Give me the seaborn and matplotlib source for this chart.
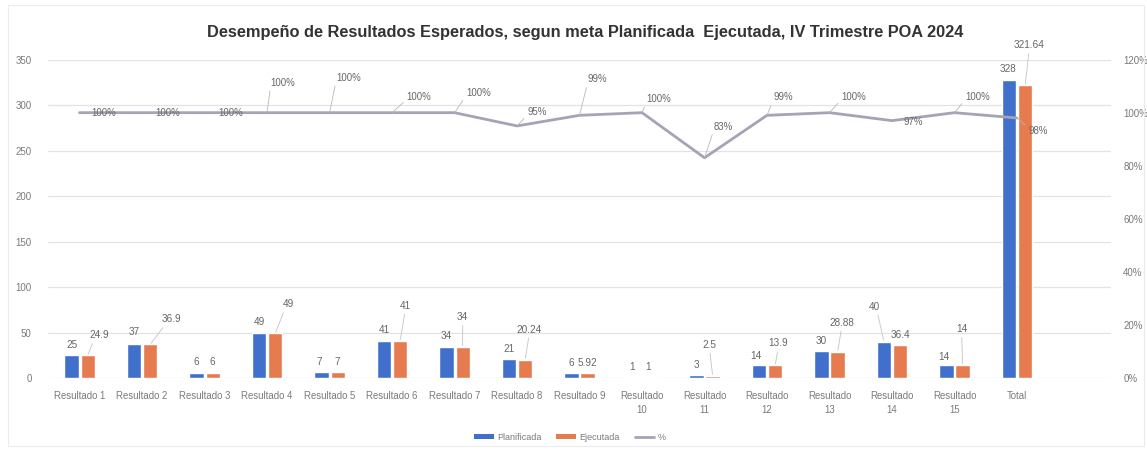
import numpy as np
import pandas as pd
import matplotlib
matplotlib.use("Agg")
import matplotlib.pyplot as plt
from matplotlib.ticker import PercentFormatter, MultipleLocator
from matplotlib.patches import Patch, Rectangle
from matplotlib.lines import Line2D
import seaborn as sns

# ---------------- data ----------------
categories = ["Resultado 1", "Resultado 2", "Resultado 3", "Resultado 4", "Resultado 5",
              "Resultado 6", "Resultado 7", "Resultado 8", "Resultado 9", "Resultado 10",
              "Resultado 11", "Resultado 12", "Resultado 13", "Resultado 14", "Resultado 15",
              "Total"]
planificada = [25, 37, 6, 49, 7, 41, 34, 21, 6, 1, 3, 14, 30, 40, 14, 328]
ejecutada = [24.9, 36.9, 6, 49, 7, 41, 34, 20.24, 5.92, 1, 2.5, 13.9, 28.88, 36.4, 14, 321.64]
pct = [100, 100, 100, 100, 100, 100, 100, 95, 99, 100, 83, 99, 100, 97, 100, 98]
series_names = ["Planificada", "Ejecutada"]
line_name = "%"
title = "Desempeño de Resultados Esperados, segun meta Planificada  Ejecutada, IV Trimestre POA 2024"

# ---------------- style ----------------
BLUE = "#4170cc"
ORANGE = "#e67b4f"
LINE = "#a4a4b6"
GRID = "#e3e3e3"
TXT = "#7a7a7a"
LBL = "#666666"

# label offsets in pixels (dx, dy up)
plan_off = [(1, 10), (0, 12), (0, 11), (0, 11), (-2, 10), (0, 11), (0, 11), (0, 10),
            (0, 10), (-2, 10), (0, 10), (-3, 9), (0, 10), (-10, 35), (-2, 8), (-1, 11)]
ejec_off = [(12, 20), (21, 25), (0, 11), (13, 29), (0, 10), (5, 35), (0, 30), (4, 30),
            (0, 10), (-2, 10), (-3, 31), (3, 22), (4, 29), (0, 10), (-1, 36), (4, 40)]
pct_off = [(24, 0), (26, 0), (26, 0), (16, 30), (19, 35), (27, 16), (24, 20), (20, 14),
           (18, 36), (17, 14), (19, 31), (16, 18), (24, 16), (21, -1), (23, 16), (21, -13)]

sns.set_theme(style="white")
plt.rcParams["font.family"] = ["Liberation Sans", "DejaVu Sans"]

fig, ax = plt.subplots(figsize=(11.47, 4.55), dpi=100)
fig.subplots_adjust(left=0.0421, right=0.9684, bottom=0.1692, top=0.869)

df = pd.DataFrame({
    "Resultado": categories * 2,
    "Serie": [series_names[0]] * len(categories) + [series_names[1]] * len(categories),
    "Valor": planificada + ejecutada,
})

sns.barplot(data=df, x="Resultado", y="Valor", hue="Serie", order=categories,
            hue_order=series_names, palette=[BLUE, ORANGE], saturation=1,
            width=0.52, gap=0.12, ax=ax, legend=False, zorder=2)

ax.set_ylim(0, 350)
ax.yaxis.set_major_locator(MultipleLocator(50))
ax.grid(axis="y", color=GRID, lw=0.9, zorder=0)
ax.grid(axis="x", visible=False)
ax.set_axisbelow(True)
for s in ax.spines.values():
    s.set_visible(False)
ax.set_xlabel("")
ax.set_ylabel("")
tick_labels = [c if len(c) <= 11 else c.replace(" ", "\n") for c in categories]
ax.set_xticks(range(len(categories)))
ax.set_xticklabels(tick_labels, fontsize=6.9, color=TXT, linespacing=1.5, va="top")
ax.tick_params(axis="x", length=0, pad=9)
ax.tick_params(axis="y", length=0, pad=12, labelsize=7, labelcolor=TXT)

# ---- bar labels
def bar_labels(container, values, offs):
    for bar, v, (dx, dy) in zip(container.patches, values, offs):
        x = bar.get_x() + bar.get_width() / 2
        y = bar.get_height()
        kw = {}
        if dy >= 18:
            rx = 0.2 if dx > 5 else (0.8 if dx < -5 else 0.5)
            kw["arrowprops"] = dict(arrowstyle="-", color="#c4c4c4", lw=0.6,
                                    shrinkA=0, shrinkB=1, relpos=(rx, 0.0))
        ax.annotate(f"{v:g}", xy=(x, y), xytext=(dx, dy), textcoords="offset pixels",
                    ha="center", va="center", fontsize=7.2, color=LBL, zorder=5, **kw)

conts = ax.containers
bar_labels(conts[0], planificada, plan_off)
bar_labels(conts[1], ejecutada, ejec_off)

# ---- percent line on secondary axis
ax2 = ax.twinx()
xs = np.arange(len(categories))
pvals = np.array(pct) / 100.0
sns.lineplot(x=xs, y=pvals, ax=ax2, color=LINE, lw=2.0, legend=False, zorder=4)
ax2.set_ylim(0, 1.2)
ax2.yaxis.set_major_locator(MultipleLocator(0.2))
ax2.yaxis.set_major_formatter(PercentFormatter(1.0, decimals=0))
ax2.tick_params(axis="y", length=0, pad=9, labelsize=7, labelcolor=TXT)
ax2.grid(False)
for s in ax2.spines.values():
    s.set_visible(False)
ax2.set_ylabel("")

for x, p, (dx, dy) in zip(xs, pct, pct_off):
    kw = {}
    if dy >= 12:
        kw["arrowprops"] = dict(arrowstyle="-", color="#b8b8b8", lw=0.6,
                                shrinkA=0, shrinkB=0, relpos=(0.0, 0.2))
    elif dy <= -10:
        kw["arrowprops"] = dict(arrowstyle="-", color="#b8b8b8", lw=0.6,
                                shrinkA=0, shrinkB=0, relpos=(0.0, 0.8))
    ax2.annotate(f"{p}%", xy=(x, p / 100.0), xytext=(dx, dy), textcoords="offset pixels",
                 ha="center", va="center", fontsize=6.9, color=LBL, zorder=6, **kw)

ax.set_xlim(-0.5, len(categories) + 0.5)

# ---- title & legend
fig.text(0.51, 1 - 33 / 455, title, ha="center", va="center", fontsize=11.8,
         fontweight="bold", color="#333333")

handles = [Patch(facecolor=BLUE, edgecolor="none"), Patch(facecolor=ORANGE, edgecolor="none"),
           Line2D([0], [0], color=LINE, lw=2)]
fig.legend(handles, series_names + [line_name], loc="center", ncol=3,
           bbox_to_anchor=(0.497, 18 / 455), frameon=False, fontsize=6.5,
           labelcolor=TXT, handlelength=2.2, handleheight=0.45, columnspacing=1.6,
           handletextpad=0.4)

# faint frame of the chart area
fig.add_artist(Rectangle((0.007, 0.02), 0.99, 0.97, transform=fig.transFigure,
                         fill=False, edgecolor="#ececec", lw=0.8))

fig.savefig("out.png", dpi=100)
